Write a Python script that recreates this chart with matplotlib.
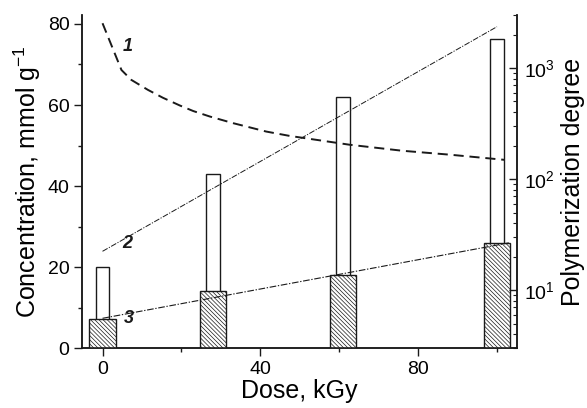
import matplotlib
matplotlib.use("Agg")
import matplotlib.pyplot as plt
from matplotlib.ticker import MultipleLocator, LogLocator, NullFormatter

plt.rcParams['font.family'] = ['Liberation Sans', 'DejaVu Sans']
plt.rcParams['hatch.linewidth'] = 0.5

# Data
dose = [0, 28, 61, 100]
total_conc = [20, 43, 62, 76.2]          # open bars
part_conc = [7.2, 14.1, 18.1, 25.9]      # hatched bars

curve1_x = [0, 4.8, 7.3, 11.5, 15.3, 19.6, 23, 27.2, 33.1, 41.5, 47.4, 62.6, 76, 88, 102]
curve1_y = [2530, 960, 782, 636, 540, 460, 410, 366, 319, 268, 245, 204, 180, 166, 149]

line2_x = [0, 100]
line2_y = [22.4, 2355]

line3_x = [0, 103]
line3_y = [7.4, 26.0]

ink = '#1a1a1a'

fig = plt.figure(figsize=(5.87, 4.08), dpi=100)
ax = fig.add_axes([0.1397, 0.1463, 0.7406, 0.8169])
ax2 = ax.twinx()

ax.bar(dose, total_conc, width=3.4, facecolor='white', edgecolor=ink, linewidth=1.0, zorder=2)
ax.bar(dose, part_conc, width=6.7, facecolor='white', edgecolor=ink, linewidth=1.0,
       hatch='\\' * 8, zorder=3)
ax.plot(line3_x, line3_y, color=ink, linewidth=0.8, linestyle=(0, (6, 1.5, 1.2, 1.5)), zorder=4)

ax2.plot(curve1_x, curve1_y, color=ink, linewidth=1.4, linestyle=(0, (5.2, 3.0)), zorder=4)
ax2.plot(line2_x, line2_y, color=ink, linewidth=0.7, linestyle=(0, (6, 1.5, 1.2, 1.5)), zorder=4)
ax2.set_yscale('log')
ax2.set_ylim(3, 3000)

ax.set_xlim(-5.2, 105)
ax.set_ylim(0, 82.2)
ax.xaxis.set_major_locator(MultipleLocator(40))
ax.xaxis.set_minor_locator(MultipleLocator(20))
ax.yaxis.set_major_locator(MultipleLocator(20))
ax.yaxis.set_minor_locator(MultipleLocator(10))

ax2.yaxis.set_major_locator(LogLocator(base=10))
ax2.yaxis.set_minor_locator(LogLocator(base=10, subs=range(2, 10)))
ax2.yaxis.set_minor_formatter(NullFormatter())

for a in (ax, ax2):
    for s in a.spines.values():
        s.set_color(ink)
        s.set_linewidth(1.1)
ax.spines['top'].set_visible(False)
ax2.spines['top'].set_visible(False)

ax.tick_params(axis='both', which='major', direction='out', length=6, width=1.0, color=ink,
               labelsize=14, pad=3)
ax.tick_params(axis='both', which='minor', direction='out', length=3, width=1.0, color=ink)
ax2.tick_params(axis='y', which='major', direction='in', length=6, width=1.0, color=ink,
                labelsize=14, pad=5)
ax2.tick_params(axis='y', which='minor', direction='in', length=3, width=0.8, color=ink)

ax.set_xlabel('Dose, kGy', fontsize=18, labelpad=1)
ax.set_ylabel('Concentration, mmol g$^{\\mathdefault{-1}}$', fontsize=18, labelpad=3)
ax2.set_ylabel('Polymerization degree', fontsize=18, labelpad=5)

lab = dict(fontsize=13, fontweight='bold', fontstyle='italic', ha='center', va='center', color=ink)
ax.text(6.4, 74.4, '1', **lab)
ax.text(6.4, 25.9, '2', **lab)
ax.text(6.6, 7.4, '3', **lab)

fig.savefig('out.png', dpi=100)
